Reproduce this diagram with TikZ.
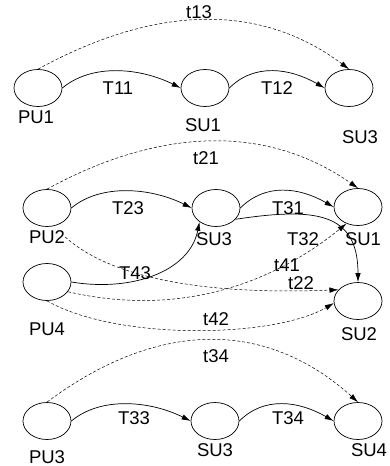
\documentclass[tikz,border=0pt]{standalone}
\usepackage{fontspec}
\setmainfont{Liberation Sans}
\usetikzlibrary{shapes.geometric,arrows.meta}
\begin{document}
\begin{tikzpicture}[x=1pt,y=-1pt,
  st/.style={draw, ellipse, minimum width=48pt, minimum height=37pt, inner sep=0pt, line width=0.7pt},
  lbl/.style={font=\fontsize{18.5}{20}\selectfont, inner sep=0pt},
  tr/.style={line width=0.7pt, -{Latex[length=9pt,width=5.5pt]}},
  dtr/.style={line width=0.5pt, dash pattern=on 3pt off 2pt, -{Latex[length=9pt,width=5.5pt]}}]
\useasboundingbox (0,0) rectangle (389,466);
% ---- top row
\node[st] (pu1) at (38,88) {};
\node[st] (su1a) at (205,88) {};
\node[st] (su3a) at (349,88) {};
\node[lbl] (pu1l) at (36,117) {PU1};
\node[lbl] (su1al) at (203,125) {SU1};
\node[lbl] (su3al) at (360,137) {SU3};
\node[lbl] (t13) at (199,12) {t13};
\node[lbl] (T11) at (118,88) {T11};
\node[lbl] (T12) at (277,88) {T12};
\draw[dtr] (pu1.north) .. controls +(100,-55) and +(-100,-75) .. (su3a.north);
\draw[tr] (pu1.east) .. controls +(30,-25) and +(-40,-20) .. (su1a.west);
\draw[tr] (su1a.east) .. controls +(25,-25) and +(-35,-20) .. (su3a.west);
% ---- middle
\node[st] (pu2) at (47,208) {};
\node[st] (su3b) at (216,208) {};
\node[st] (su1b) at (358,207) {};
\node[st] (pu4) at (47,282) {};
\node[st] (su2) at (358,301) {};
\node[lbl] (pu2l) at (47,237) {PU2};
\node[lbl] (su3bl) at (214,239) {SU3};
\node[lbl] (T32) at (303,239) {T32};
\node[lbl] (su1bl) at (363,239) {SU1};
\node[lbl] (t21) at (206,158) {t21};
\node[lbl] (T23) at (128,208) {T23};
\node[lbl] (T31) at (288,208) {T31};
\node[lbl] (T43) at (135,273) {T43};
\node[lbl] (t41) at (287,265) {t41};
\node[lbl] (t22) at (301,283) {t22};
\node[lbl] (pu4l) at (47,329) {PU4};
\node[lbl] (t42) at (216,319) {t42};
\node[lbl] (su2l) at (359,334) {SU2};
\draw[dtr] (pu2.north) .. controls +(100,-55) and +(-100,-70) .. (su1b.north);
\draw[tr] (pu2.east) .. controls +(30,-25) and +(-40,-20) .. (su3b.west);
\draw[tr] (su3b.east) .. controls +(25,-25) and +(-35,-20) .. (su1b.west);
\draw[tr] (su3b.-30) .. controls +(80,-12) and +(0,-70) .. (su2.north);
\draw[dtr] (pu2l.east) .. controls +(50,45) and +(-120,5) .. (su2.150);
\draw[tr] (pu4.east) .. controls +(60,10) and +(-10,50) .. (su3b.-140);
\draw[dtr] (pu4.-25) .. controls +(130,30) and +(-55,45) .. (su1b.-125);
\draw[dtr] (pu4.south) .. controls +(70,40) and +(-60,35) .. (su2.185);
% ---- bottom row
\node[st] (pu3) at (47,421) {};
\node[st] (su3c) at (215,421) {};
\node[st] (su4) at (358,421) {};
\node[lbl] (t34) at (216,356) {t34};
\node[lbl] (T33) at (134,418) {T33};
\node[lbl] (T34) at (288,418) {T34};
\node[lbl] (pu3l) at (47,457) {PU3};
\node[lbl] (su3cl) at (215,450) {SU3};
\node[lbl] (su4l) at (369,450) {SU4};
\draw[dtr] (pu3.north) .. controls +(100,-75) and +(-100,-90) .. (su4.north);
\draw[tr] (pu3.east) .. controls +(30,-25) and +(-40,-20) .. (su3c.west);
\draw[tr] (su3c.east) .. controls +(25,-25) and +(-35,-20) .. (su4.west);
\end{tikzpicture}
\end{document}
